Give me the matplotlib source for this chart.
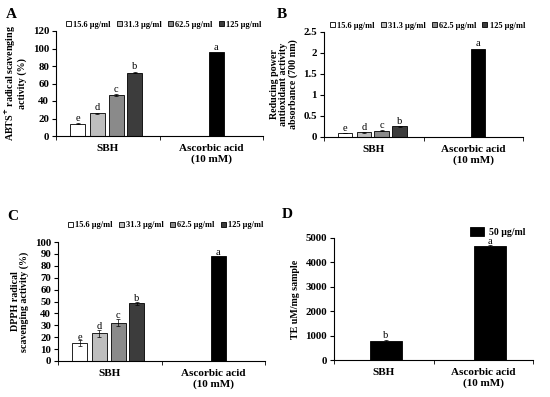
import numpy as np
import matplotlib
matplotlib.use('Agg')
import matplotlib.pyplot as plt

plt.rcParams['font.family'] = ['Liberation Serif', 'DejaVu Serif']
plt.rcParams['font.weight'] = 'bold'

# data
conc = ['15.6 µg/ml', '31.3 µg/ml', '62.5 µg/ml', '125 µg/ml']
groups = ['SBH', 'Ascorbic acid\n(10 mM)']

abts_sbh = [14, 26, 47, 72.5]
abts_err = [0.5, 0.6, 0.8, 0.8]
abts_aa = 96
abts_letters = ['e', 'd', 'c', 'b', 'a']

rp_sbh = [0.09, 0.11, 0.15, 0.25]
rp_err = [0.005, 0.005, 0.008, 0.01]
rp_aa = 2.1
rp_letters = ['e', 'd', 'c', 'b', 'a']

dpph_sbh = [14.8, 23.2, 32.3, 48.5]
dpph_err = [2.5, 3.0, 2.8, 1.5]
dpph_aa = 88
dpph_letters = ['e', 'd', 'c', 'b', 'a']

te_vals = [780, 4680]
te_err = [40, 30]
te_letters = ['b', 'a']

colors = ['white', '#bebebe', '#8a8a8a', '#3c3c3c']
W, H = 550, 397


def axes_px(fig, x0, x1, ybot, ytop):
    return fig.add_axes([x0 / W, 1 - ybot / H, (x1 - x0) / W, (ybot - ytop) / H])


def style_axes(ax, ymax, yticks, ylabel, yfmt=None):
    ax.set_xlim(0, 2)
    ax.set_ylim(0, ymax)
    for s in ['top', 'right']:
        ax.spines[s].set_visible(False)
    ax.set_yticks(yticks)
    if yfmt:
        ax.set_yticklabels([yfmt(v) for v in yticks])
    ax.set_xticks([0.5, 1.5])
    ax.set_xticklabels(groups, fontsize=8, fontweight='bold', linespacing=1.1)
    ax.set_xticks([0, 1, 2], minor=True)
    ax.tick_params(axis='x', which='major', length=0, pad=6)
    ax.tick_params(axis='x', which='minor', length=3, direction='out')
    ax.tick_params(axis='y', labelsize=7.8, length=3, direction='out', pad=2)
    for t in ax.get_yticklabels():
        t.set_fontweight('bold')
    ax.set_ylabel(ylabel, fontsize=7.2, fontweight='bold', linespacing=1.0, labelpad=4)


def group_panel(ax, sbh, err, aa, letters, off):
    offs = [-0.29, -0.10, 0.08, 0.26]
    xs = [0.5 + o for o in offs]
    for i in range(4):
        ax.bar(xs[i], sbh[i], 0.145, color=colors[i], edgecolor='black', linewidth=0.6,
               label=conc[i], zorder=2)
        ax.errorbar(xs[i], sbh[i], yerr=err[i], color='black', capsize=1.5,
                    elinewidth=0.5, capthick=0.5, zorder=3)
    xa = 1.55
    ax.bar(xa, aa, 0.145, color='black', edgecolor='black', linewidth=0.6, zorder=2)
    for x, v, e, l in zip(xs + [xa], list(sbh) + [aa], list(err) + [0], letters):
        ax.text(x, v + e + off, l, ha='center', va='bottom', fontsize=7.5, fontweight='normal')
    leg = ax.legend(ncol=4, loc='lower center', bbox_to_anchor=(0.52, 0.99), frameon=False,
                    handlelength=0.6, handleheight=0.6, handletextpad=0.3, columnspacing=0.7,
                    prop={'size': 6, 'weight': 'bold'}, borderaxespad=0)
    return leg


fig = plt.figure(figsize=(5.5, 3.97), dpi=100)

# A
axA = axes_px(fig, 56, 263, 136, 31)
group_panel(axA, abts_sbh, abts_err, abts_aa, abts_letters, 0.5)
style_axes(axA, 120, np.arange(0, 121, 20),
           'ABTS$^{+}$ radical scavenging\nactivity (%)')
fig.text(6 / W, 1 - 14 / H, 'A', fontsize=11, fontweight='bold', va='center', ha='left')

# B
axB = axes_px(fig, 324, 523, 137, 32)
group_panel(axB, rp_sbh, rp_err, rp_aa, rp_letters, 0.01)
style_axes(axB, 2.5, [0, 0.5, 1, 1.5, 2, 2.5],
           'Reducing power\nantioxidant activity\nabsorbance (700 nm)',
           yfmt=lambda v: ('%g' % v))
fig.text(277 / W, 1 - 14 / H, 'B', fontsize=11, fontweight='bold', va='center', ha='left')

# C
axC = axes_px(fig, 58, 265, 361, 242)
leg = group_panel(axC, dpph_sbh, dpph_err, dpph_aa, dpph_letters, -1.0)
leg.set_bbox_to_anchor((0.52, 1.08))
style_axes(axC, 100, np.arange(0, 101, 10),
           'DPPH radical\nscavenging activity (%)')
fig.text(7 / W, 1 - 216 / H, 'C', fontsize=11, fontweight='bold', va='center', ha='left')

# D
axD = axes_px(fig, 334, 533, 360, 238)
xd = [0.52, 1.57]
axD.bar(xd, te_vals, 0.32, color='black', edgecolor='black', linewidth=0.6,
        label='50 µg/ml', zorder=2)
axD.errorbar(xd, te_vals, yerr=te_err, fmt='none', ecolor='black', capsize=1.5,
             elinewidth=0.5, capthick=0.5, zorder=3)
for x, v, e, l in zip(xd, te_vals, te_err, te_letters):
    axD.text(x, v + e - 20, l, ha='center', va='bottom', fontsize=7.5, fontweight='normal')
axD.legend(loc='lower right', bbox_to_anchor=(0.98, 0.98), frameon=False,
           handlelength=1.4, handleheight=1.0, handletextpad=0.5,
           prop={'size': 7, 'weight': 'bold'}, borderaxespad=0)
style_axes(axD, 5000, np.arange(0, 5001, 1000), 'TE uM/mg sample')
fig.text(282 / W, 1 - 215 / H, 'D', fontsize=11, fontweight='bold', va='center', ha='left')

fig.savefig('out.png', dpi=100)
